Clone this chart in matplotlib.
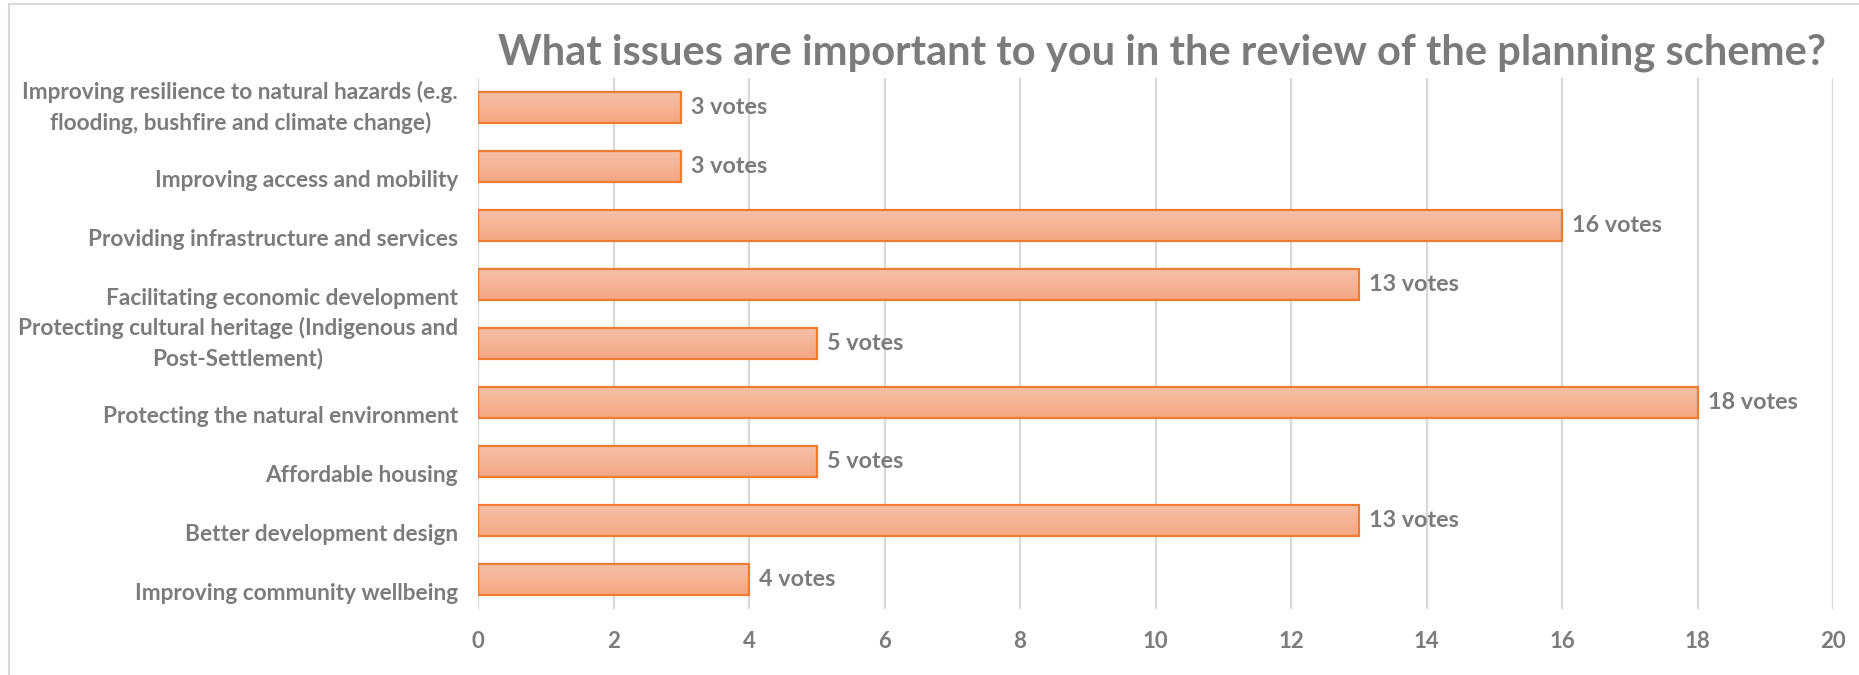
import numpy as np
import matplotlib
matplotlib.use("Agg")
import matplotlib.pyplot as plt
from matplotlib.colors import LinearSegmentedColormap
from matplotlib.patches import Rectangle
from matplotlib.transforms import blended_transform_factory, offset_copy

matplotlib.rcParams['font.family'] = ['Lato', 'DejaVu Sans']
matplotlib.rcParams['font.weight'] = 'bold'

# ---------- Data ----------
categories = [
    "Improving resilience to natural hazards (e.g.\nflooding, bushfire and climate change)",
    "Improving access and mobility",
    "Providing infrastructure and services",
    "Facilitating economic development",
    "Protecting cultural heritage (Indigenous and\nPost-Settlement)",
    "Protecting the natural environment",
    "Affordable housing",
    "Better development design",
    "Improving community wellbeing",
]
votes = [3, 3, 16, 13, 5, 18, 5, 13, 4]
x_ticks = [0, 2, 4, 6, 8, 10, 12, 14, 16, 18, 20]
title = "What issues are important to you in the review of the planning scheme?"

TEXT_COLOR = "#7B7B7B"
GRID_COLOR = "#D9D9D9"
EDGE_COLOR = "#ED7D31"

W, H = 1859, 675
fig = plt.figure(figsize=(W / 100, H / 100), dpi=100)
fig.patch.set_facecolor("white")

ax = fig.add_axes([478 / W, 1 - 609 / H, (1833 - 478) / W, (609 - 78) / H])

y = np.arange(len(categories))
bar_h = 0.51
bars = ax.barh(y, votes, height=bar_h, color="none", edgecolor=EDGE_COLOR,
               linewidth=1.6, zorder=3)

# gradient fill, light on top
cmap = LinearSegmentedColormap.from_list("bar", ["#F7C0A6", "#F4A683"])
grad = np.linspace(0, 1, 64).reshape(-1, 1)
for yi, v, patch in zip(y, votes, bars.patches):
    im = ax.imshow(grad, cmap=cmap, aspect="auto", interpolation="bilinear",
                   extent=(0, v, yi + bar_h / 2, yi - bar_h / 2), zorder=2)
    im.set_clip_path(patch)

ax.set_xlim(0, 20)
ax.set_ylim(len(categories) - 0.5, -0.5)
ax.set_xticks(x_ticks)
ax.set_xticklabels([str(t) for t in x_ticks])
ax.set_yticks([])
ax.grid(axis="x", color=GRID_COLOR, linewidth=1.6, zorder=0)
ax.set_axisbelow(True)
for s in ax.spines.values():
    s.set_visible(False)
ax.tick_params(axis="x", length=0, pad=16, labelsize=16, labelcolor=TEXT_COLOR)

# category labels (single-line ones sit a little low, like the original)
trans = blended_transform_factory(fig.transFigure, ax.transData)
for yi, lab in zip(y, categories):
    t = trans if "\n" in lab else offset_copy(trans, fig=fig, y=-14, units="dots")
    ax.text(458 / W, yi, lab, transform=t, ha="right", va="center",
            multialignment="center", fontsize=16.3, color=TEXT_COLOR,
            linespacing=1.5)

# value labels
for yi, v in zip(y, votes):
    ax.text(v, yi, f"{v} votes", ha="left", va="center", fontsize=16.8,
            color=TEXT_COLOR,
            transform=offset_copy(ax.transData, fig=fig, x=10, units="dots"))

fig.text(1162 / W, 1 - 53 / H, title, ha="center", va="center",
         fontsize=30, color=TEXT_COLOR)

# chart frame
fig.add_artist(Rectangle((8.5 / W, -0.05), 1.0, 1.05 - 4.5 / H,
                         transform=fig.transFigure, fill=False,
                         edgecolor=GRID_COLOR, linewidth=1.5))

fig.savefig("out.png", dpi=100, facecolor="white")
